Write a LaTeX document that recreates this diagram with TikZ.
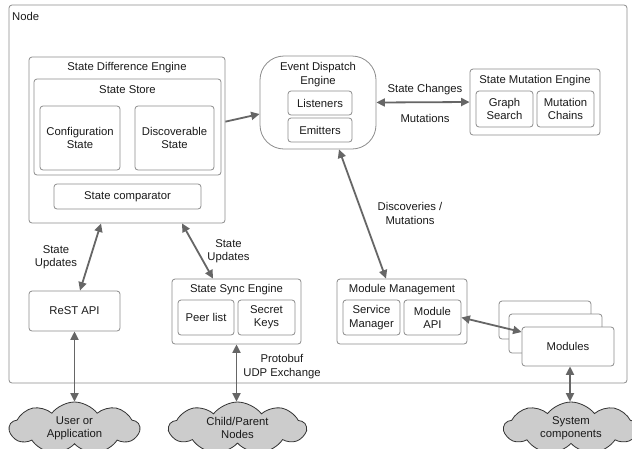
\documentclass[tikz,border=0pt]{standalone}
\usepackage{fontspec}
\setmainfont{Liberation Sans}
\usetikzlibrary{arrows.meta,shapes.symbols,calc}
\definecolor{boxline}{HTML}{8C8C8C}
\definecolor{arrowc}{HTML}{666666}
\definecolor{cloudfill}{HTML}{CCCCCC}
\definecolor{cloudline}{HTML}{333333}
\definecolor{txt}{HTML}{1A1A1A}
\begin{document}
\begin{tikzpicture}[x=1pt,y=-1pt, font=\fontsize{11.3}{13.2}\selectfont, text=txt,
  box/.style={draw=boxline, line width=0.8pt, rounded corners=3pt, inner sep=0pt, align=center, fill=white},
  lbl/.style={inner sep=0pt, align=center},
  tipc/.tip={Triangle[length=8.5pt,width=8pt]},
  conn/.style={draw=arrowc, line width=1.8pt, -tipc},
  biconn/.style={draw=arrowc, line width=1.8pt, tipc-tipc},
  cloudy/.style={cloud, cloud puffs=9, cloud puff arc=105, aspect=2.6, draw=cloudline, line width=0.8pt, fill=cloudfill, inner sep=0pt, align=center}
]
\useasboundingbox (0,0) rectangle (632,448);
\fill[white] (0,0) rectangle (632,448);

% outer node
\node[box, minimum width=618pt, minimum height=378pt] (outer) at (318,194) {};
\node[lbl, anchor=west] (outerlbl) at (12,16) {Node};

% State Difference Engine
\node[box, minimum width=196pt, minimum height=166pt] (sde) at (127,140) {};
\node[lbl] (sdelbl) at (127,67.5) {State Difference Engine};
\node[box, minimum width=187pt, minimum height=96pt] (ss) at (127.5,127) {};
\node[lbl] (sslbl) at (127.5,89.5) {State Store};
\node[box, minimum width=80pt, minimum height=64pt] (conf) at (80,138) {Configuration\\State};
\node[box, minimum width=79pt, minimum height=64pt] (disc) at (174.5,138) {Discoverable\\State};
\node[box, minimum width=147pt, minimum height=25pt] (comp) at (127.5,196.5) {State comparator};

% Event Dispatch Engine
\node[box, rounded corners=24pt, minimum width=116pt, minimum height=93pt] (ede) at (318,102.5) {};
\node[lbl] (edelbl) at (318,74.5) {Event Dispatch\\Engine};
\node[box, minimum width=64pt, minimum height=24pt] (lis) at (320,103) {Listeners};
\node[box, minimum width=64pt, minimum height=24pt] (emi) at (320,130) {Emitters};

% State Mutation Engine
\node[box, minimum width=130pt, minimum height=66pt] (sme) at (535,102) {};
\node[lbl] (smelbl) at (535,80.5) {State Mutation Engine};
\node[box, minimum width=57pt, minimum height=36pt] (gs) at (504.5,109) {Graph\\Search};
\node[box, minimum width=57pt, minimum height=36pt] (mc) at (565.5,109) {Mutation\\Chains};

% ReST API
\node[box, minimum width=91pt, minimum height=40pt] (rest) at (74.5,311) {ReST API};

% State Sync Engine
\node[box, minimum width=129pt, minimum height=65pt] (sse) at (236.5,311.5) {};
\node[lbl] (sselbl) at (236.5,289.5) {State Sync Engine};
\node[box, minimum width=56pt, minimum height=35pt] (peer) at (206,317.5) {Peer list};
\node[box, minimum width=57pt, minimum height=35pt] (keys) at (266.5,317.5) {Secret\\Keys};

% Module Management
\node[box, minimum width=130pt, minimum height=65pt] (mm) at (402,311.5) {};
\node[lbl] (mmlbl) at (402,289.5) {Module Management};
\node[box, minimum width=57pt, minimum height=35pt] (svc) at (371.5,317.5) {Service\\Manager};
\node[box, minimum width=57pt, minimum height=35pt] (mapi) at (432.5,317.5) {Module\\API};

% Modules stack
\node[box, minimum width=92pt, minimum height=38pt] (modback) at (545,320) {};
\node[box, minimum width=93pt, minimum height=39pt] (modmid) at (555.5,333.5) {};
\node[box, minimum width=92pt, minimum height=39pt] (mods) at (568,346.5) {Modules};

% clouds
\node[cloudy, minimum width=130pt, minimum height=52pt] (user) at (74.5,428) {User or\\Application};
\node[cloudy, minimum width=137pt, minimum height=52pt] (child) at (237.5,428) {Child/Parent\\Nodes};
\node[cloudy, minimum width=134pt, minimum height=52pt] (sys) at (571,428) {System\\components};

% connectors
\draw[conn] ($(sde.north east)!0.39!(sde.south east)$) -- ([yshift=-11.5pt]ede.west);
\draw[biconn] (ede.east) -- (sme.west);
\node[lbl] (sclbl) at (425,89.5) {State Changes};
\node[lbl] (mutlbl) at (425,118) {Mutations};
\draw[biconn] ([xshift=21pt]ede.south) -- ([xshift=-16pt]mm.north);
\node[lbl] (dmlbl) at (410,213.5) {Discoveries /\\Mutations};
\draw[biconn] ([xshift=-26pt]sde.south) -- ([xshift=5.5pt]rest.north);
\node[lbl] (su1) at (56,257.5) {State\\Updates};
\draw[biconn] ([xshift=55pt]sde.south) -- ([xshift=-23.5pt]sse.north);
\node[lbl] (su2) at (228.5,251) {State\\Updates};
\draw[biconn] (rest.south) -- (rest.south |- user.north);
\draw[biconn] (sse.south) -- (sse.south |- child.north);
\node[lbl] (pblbl) at (282,366.5) {Protobuf\\UDP Exchange};
\draw[biconn] (mapi.east) -- ([yshift=14.5pt]mods.west);
\draw[biconn] ([xshift=2pt]mods.south) -- ([xshift=2pt]mods.south |- sys.north);
\end{tikzpicture}
\end{document}
